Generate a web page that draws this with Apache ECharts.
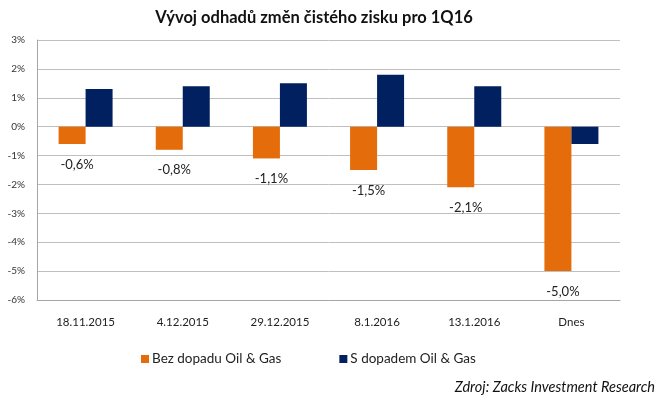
<!DOCTYPE html>
<html>
<head>
<meta charset="utf-8">
<script src="https://cdn.jsdelivr.net/npm/echarts@6/dist/echarts.min.js"></script>
<style>
  html, body { margin: 0; padding: 0; background: #fff; }
  #chart { width: 668px; height: 396px; }
</style>
</head>
<body>
<div id="chart"></div>
<script>
const categories = ['18.11.2015', '4.12.2015', '29.12.2015', '8.1.2016', '13.1.2016', 'Dnes'];
const bezDopadu = [-0.6, -0.8, -1.1, -1.5, -2.1, -5.0];
const sDopadem = [1.3, 1.4, 1.5, 1.8, 1.4, -0.6];
const seriesNames = ['Bez dopadu Oil & Gas', 'S dopadem Oil & Gas'];

const fontFamily = 'Lato, "Open Sans", sans-serif';

var myChart = echarts.init(document.getElementById('chart'), null, { renderer: 'canvas' });

const option = {
  animation: false,
  textStyle: { fontFamily: fontFamily },
  title: [
    {
      text: 'Vývoj odhadů změn čistého zisku pro 1Q16',
      left: 309,
      textAlign: 'center',
      top: 4,
      textStyle: { fontSize: 16.5, fontWeight: 'bold', color: '#111', fontFamily: fontFamily }
    },
    {
      text: 'Zdroj: Zacks Investment Research',
      right: 8,
      top: 375,
      textStyle: { fontSize: 14.5, fontWeight: 'normal', fontStyle: 'italic', color: '#111', fontFamily: fontFamily }
    }
  ],
  legend: {
    left: 136,
    top: 347,
    itemWidth: 8,
    itemHeight: 8,
    itemGap: 58,
    icon: 'rect',
    textStyle: { fontSize: 13.5, color: '#222', padding: [0, 0, 0, -2] },
    data: seriesNames
  },
  grid: {
    left: 37,
    right: 48,
    top: 40,
    bottom: 96
  },
  xAxis: {
    type: 'category',
    data: categories,
    position: 'bottom',
    axisLine: { onZero: false, lineStyle: { color: '#a6a6a6' } },
    axisTick: { show: false },
    axisLabel: { fontSize: 11.5, color: '#222', margin: 16 }
  },
  yAxis: {
    type: 'value',
    min: -6,
    max: 3,
    interval: 1,
    axisLine: { show: true, lineStyle: { color: '#a6a6a6' } },
    axisTick: { show: false },
    splitLine: { lineStyle: { color: '#bfbfbf' } },
    axisLabel: {
      fontSize: 10,
      color: '#333',
      margin: 12,
      formatter: function (v) { return v + '%'; }
    }
  },
  series: [
    {
      name: seriesNames[0],
      type: 'bar',
      data: bezDopadu,
      barWidth: 27,
      barGap: '0%',
      itemStyle: { color: '#E46C0A' },
      label: {
        show: true,
        position: 'bottom',
        distance: 14,
        offset: [5, 0],
        fontSize: 13,
        color: '#222',
        formatter: function (p) { return p.value.toFixed(1).replace('.', ',') + '%'; }
      }
    },
    {
      name: seriesNames[1],
      type: 'bar',
      data: sDopadem,
      barWidth: 27,
      barGap: '0%',
      itemStyle: { color: '#002060' }
    }
  ]
};

option && myChart.setOption(option);
</script>
</body>
</html>
